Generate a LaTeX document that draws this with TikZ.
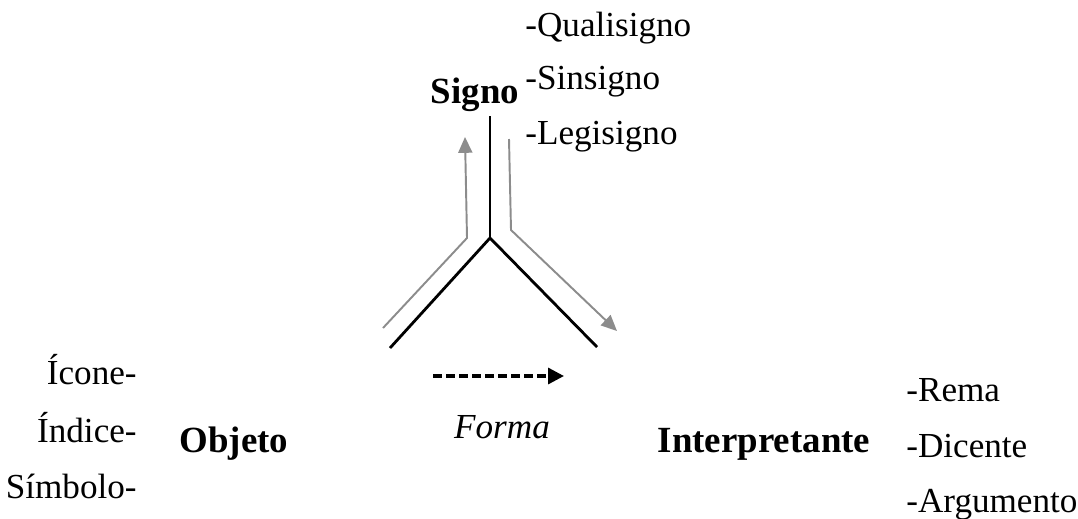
\documentclass[tikz,border=0pt]{standalone}
\usepackage{fontspec}
\setmainfont{Liberation Serif}
\usetikzlibrary{arrows.meta,positioning}
\definecolor{flowgray}{HTML}{8C8C8C}

\begin{document}
\begin{tikzpicture}[
    x=0.02cm, y=-0.02cm,
    txt/.style={inner sep=0pt, font=\fontsize{20}{24}\selectfont},
    head/.style={inner sep=0pt, font=\fontsize{21}{25}\selectfont\bfseries},
    axis/.style={line width=1.6pt, black},
    flow/.style={-{Triangle[length=9pt, width=8pt]}, line width=1.1pt, flowgray},
    form/.style={-{Triangle[length=9pt, width=9pt]}, line width=1.9pt, black, dash pattern=on 5pt off 2.4pt},
]
    \useasboundingbox (0,0) rectangle (1078,518);

    % Signo
    \node[head, anchor=base] (signo) at (475,103) {Signo};
    \node[txt, anchor=base west] (quali) at (525,36) {-Qualisigno};
    \node[txt, anchor=base west] (sins) at (525,89) {-Sinsigno};
    \node[txt, anchor=base west] (legi) at (525,144) {-Legisigno};

    % Objeto
    \node[head, anchor=base] (objeto) at (234,452) {Objeto};
    \node[txt, anchor=base east] (icone) at (137,384) {Ícone-};
    \node[txt, anchor=base east] (indice) at (137,442) {Índice-};
    \node[txt, anchor=base east] (simbolo) at (137,498) {Símbolo-};

    % Interpretante
    \node[head, anchor=base] (interp) at (764,452) {Interpretante};
    \node[txt, anchor=base west] (rema) at (906,401) {-Rema};
    \node[txt, anchor=base west] (dicente) at (906,457) {-Dicente};
    \node[txt, anchor=base west] (argum) at (906,512) {-Argumento};

    % Forma
    \node[txt, font=\fontsize{20}{24}\selectfont\itshape, anchor=base] (forma) at (502,438) {Forma};

    % tripod
    \coordinate (ytop) at (490,116);
    \coordinate (ymid) at (490,238);
    \coordinate (yleft) at (390,348);
    \coordinate (yright) at (597,347);
    \draw[axis] (ytop) -- (ymid);
    \draw[axis] (yleft) -- (ymid) -- (yright);

    % flow arrows
    \coordinate (upstart) at (383,328);
    \coordinate (upbend) at (467,238);
    \coordinate (upend) at (465,137);
    \draw[flow] (upstart) -- (upbend) -- (upend);
    \coordinate (dnstart) at (509,139);
    \coordinate (dnbend) at (511,230);
    \coordinate (dnend) at (617,331);
    \draw[flow] (dnstart) -- (dnbend) -- (dnend);

    % dashed arrow
    \coordinate (fstart) at (433,376);
    \coordinate (fend) at (564,376);
    \draw[form] (fstart) -- (fend);

\end{tikzpicture}
\end{document}
